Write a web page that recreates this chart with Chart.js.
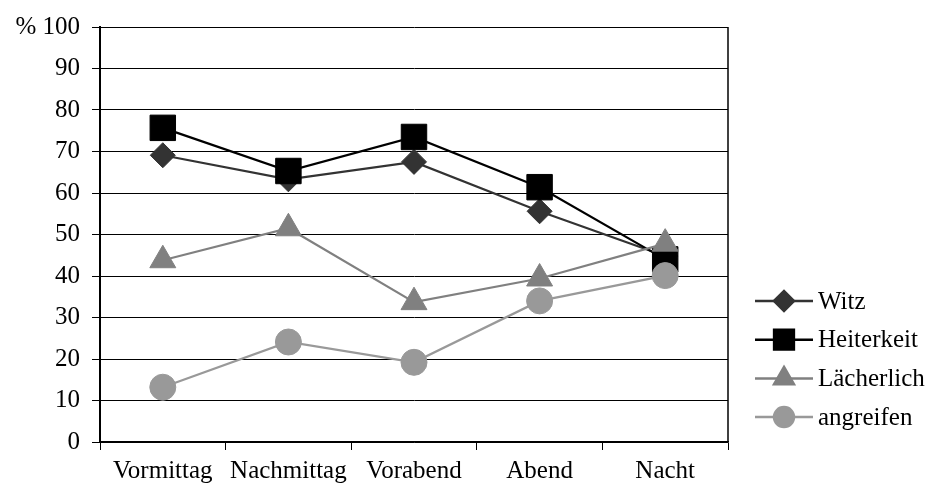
<!DOCTYPE html>
<html>
<head>
<meta charset="utf-8">
<script src="https://cdn.jsdelivr.net/npm/chart.js@4/dist/chart.umd.min.js"></script>
<style>
  html, body { margin: 0; padding: 0; background: #fff; }
  #wrap { width: 936px; height: 495px; position: relative; }
</style>
</head>
<body>
<div id="wrap"><canvas id="chart"></canvas></div>
<script>
// categories and series (percent)
const categories = ["Vormittag", "Nachmittag", "Vorabend", "Abend", "Nacht"];
const witz       = [69.1, 63.3, 67.5, 55.6, 44.8];
const heiterkeit = [75.7, 65.3, 73.5, 61.4, 44.0];
const laecherlich = [43.8, 51.5, 33.7, 39.4, 47.8];
const angreifen  = [13.2, 24.1, 19.2, 34.0, 40.1];
const yTicks = [0, 10, 20, 30, 40, 50, 60, 70, 80, 90, 100];

const serif = "'Liberation Serif', 'Times New Roman', serif";

const series = [
  { label: "Witz",       data: witz,        color: "#333333", style: "rectRot",  r: 12.5, lr: 10,  order: 4 },
  { label: "Heiterkeit", data: heiterkeit,  color: "#000000", style: "rect",     r: 18,   lr: 14,  order: 3 },
  { label: "Lächerlich", data: laecherlich, color: "#808080", style: "triangle", r: 15,   lr: 11.5, order: 2 },
  { label: "angreifen",  data: angreifen,   color: "#999999", style: "circle",   r: 13,   lr: 10,  order: 1 }
];

function marker(ctx, style, r, x, y) {
  if (Chart.helpers && Chart.helpers.drawPoint) {
    Chart.helpers.drawPoint(ctx, { pointStyle: style, radius: r, rotation: 0, borderWidth: 1 }, x, y);
  }
}

// right edge of the plot frame
const frame = {
  id: "frame",
  beforeDatasetsDraw(chart) {
    const a = chart.chartArea, ctx = chart.ctx;
    ctx.save();
    ctx.strokeStyle = "#000";
    ctx.lineWidth = 1.5;
    ctx.beginPath();
    ctx.moveTo(a.right, a.top);
    ctx.lineTo(a.right, a.bottom);
    ctx.stroke();
    ctx.restore();
  }
};

// legend with line + marker samples on the right
const sideLegend = {
  id: "sideLegend",
  afterDraw(chart) {
    const ctx = chart.ctx;
    const x0 = 755, x1 = 813, tx = 818;
    const y0 = 301, dy = 38.7;
    ctx.save();
    series.forEach((s, i) => {
      const y = y0 + i * dy;
      ctx.strokeStyle = s.color;
      ctx.fillStyle = s.color;
      ctx.lineWidth = 2.5;
      ctx.beginPath();
      ctx.moveTo(x0, y);
      ctx.lineTo(x1, y);
      ctx.stroke();
      marker(ctx, s.style, s.lr, (x0 + x1) / 2, y);
      ctx.fillStyle = "#000";
      ctx.font = "25px " + serif;
      ctx.textBaseline = "middle";
      ctx.textAlign = "left";
      ctx.fillText(s.label, tx, y + 1);
    });
    ctx.restore();
  }
};

new Chart(document.getElementById("chart"), {
  type: "line",
  data: {
    labels: categories,
    datasets: series.map(s => ({
      label: s.label,
      data: s.data,
      order: s.order,
      borderColor: s.color,
      backgroundColor: s.color,
      borderWidth: 2.2,
      tension: 0,
      pointStyle: s.style,
      pointRadius: s.r,
      pointHoverRadius: s.r,
      pointBackgroundColor: s.color,
      pointBorderColor: s.color,
      pointBorderWidth: 1
    }))
  },
  options: {
    responsive: true,
    maintainAspectRatio: false,
    animation: false,
    layout: { padding: { top: 22, right: 208, bottom: 0, left: 0 } },
    plugins: {
      legend: { display: false },
      tooltip: { enabled: false }
    },
    scales: {
      x: {
        offset: true,
        grid: { offset: true, drawOnChartArea: false, color: "#000", tickLength: 8, lineWidth: 1 },
        border: { display: true, color: "#000", width: 1.5 },
        ticks: { color: "#000", font: { family: serif, size: 25 }, padding: 6, maxRotation: 0, autoSkip: false },
        afterFit(scale) { scale.height = 53; }
      },
      y: {
        min: 0,
        max: 100,
        afterBuildTicks(scale) { scale.ticks = yTicks.map(v => ({ value: v })); },
        grid: { color: "#000", lineWidth: 1, tickLength: 8 },
        border: { display: true, color: "#000", width: 2 },
        ticks: {
          color: "#000",
          font: { family: serif, size: 25 },
          padding: 12,
          callback: v => (v === 100 ? "% 100" : String(v))
        },
        afterFit(scale) { scale.width = 100; }
      }
    }
  },
  plugins: [frame, sideLegend]
});
</script>
</body>
</html>
